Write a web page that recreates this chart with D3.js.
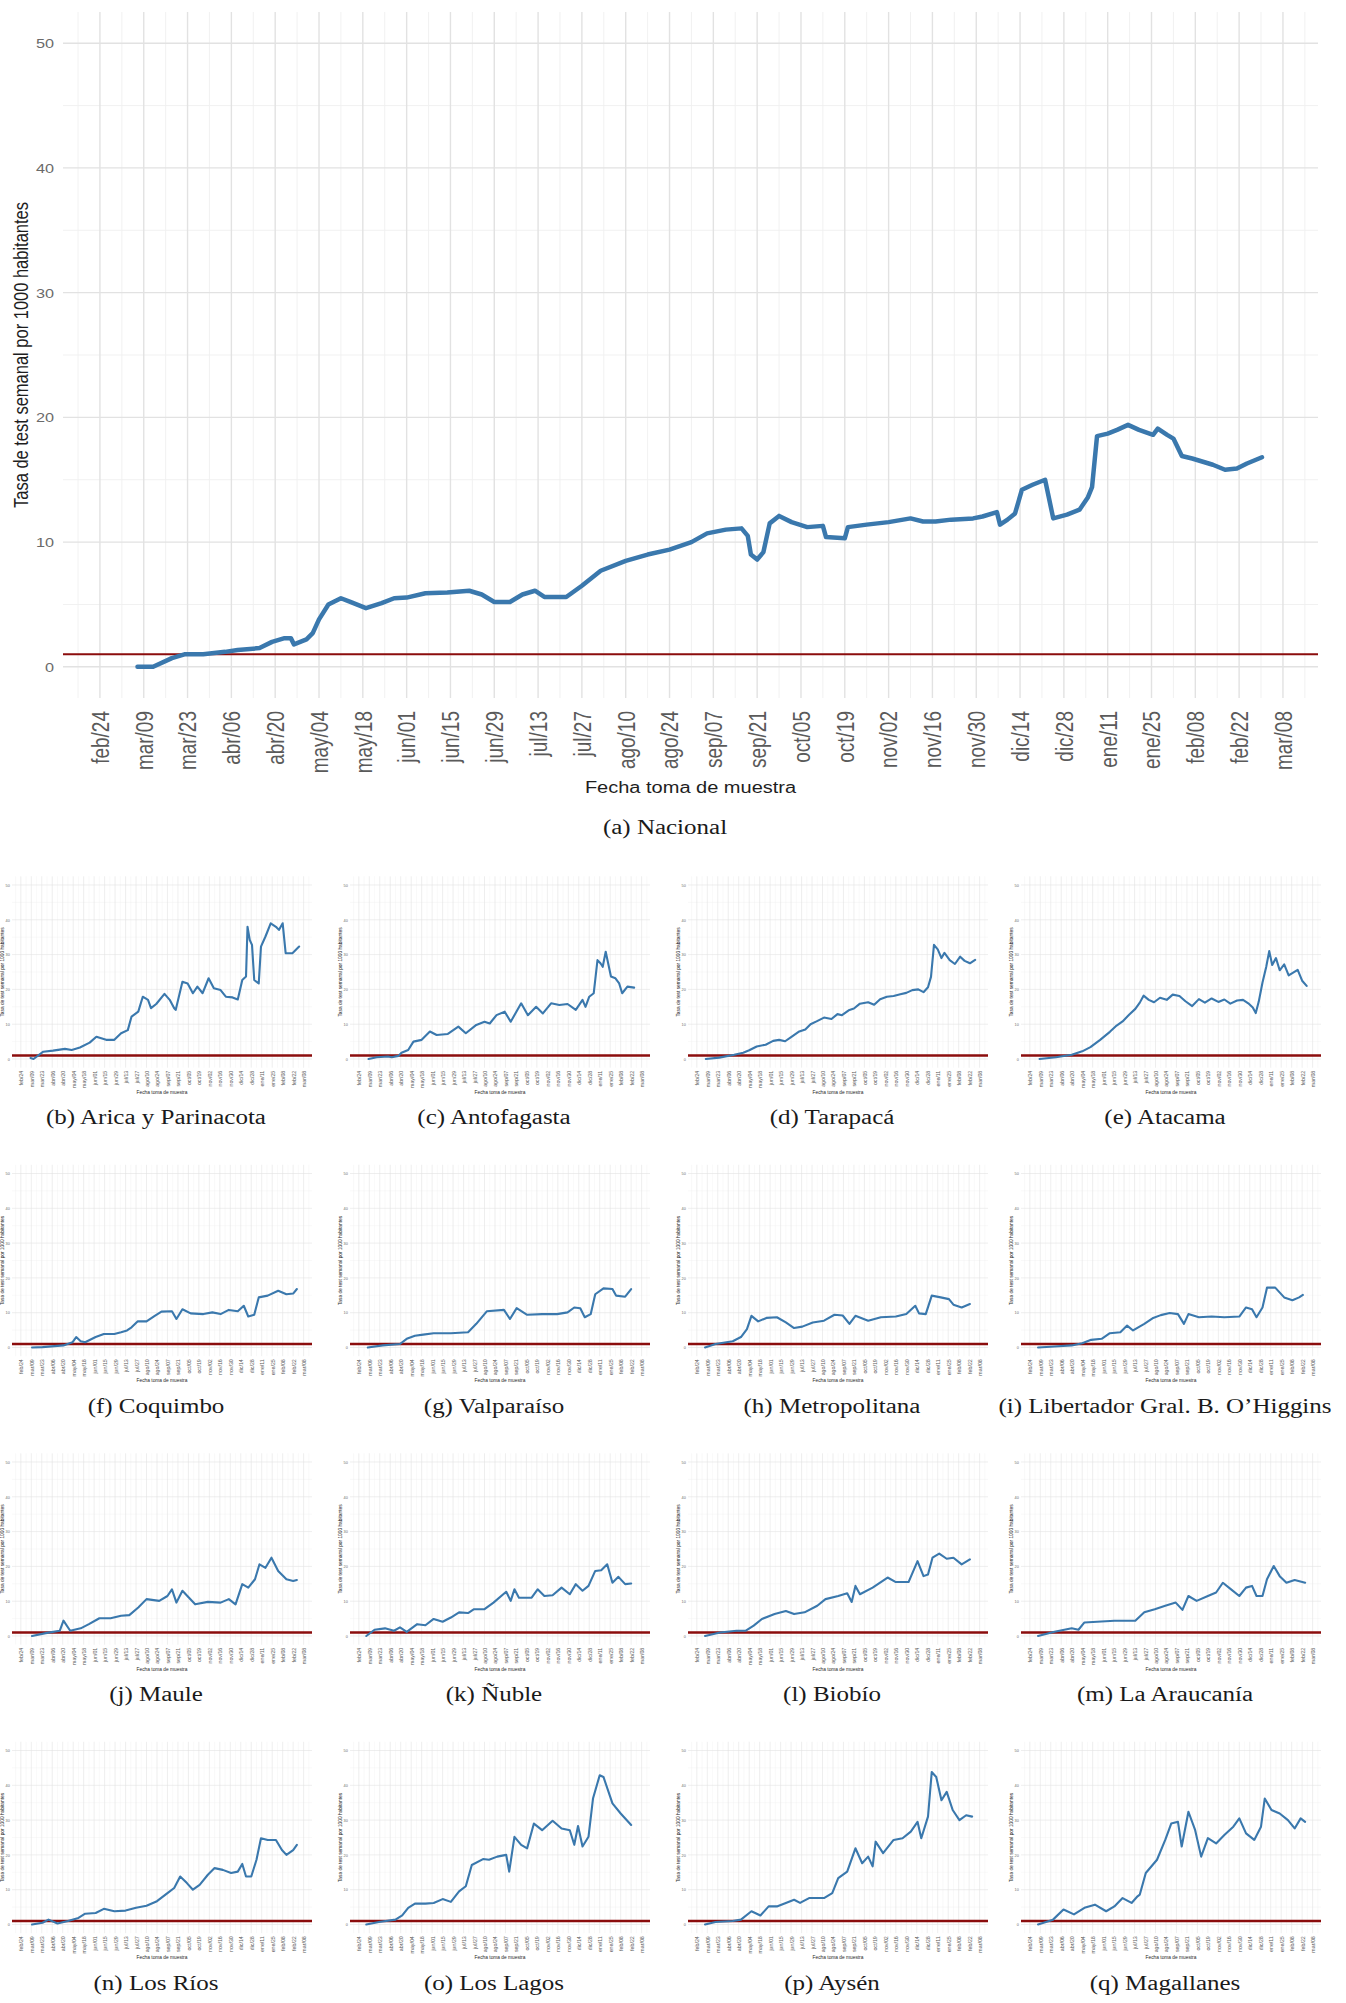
<!DOCTYPE html>
<html><head><meta charset="utf-8">
<script src="https://cdn.jsdelivr.net/npm/d3@7"></script>
<style>body{margin:0;background:#fff}svg{display:block}</style>
</head><body>
<svg id="fig" width="1346" height="2003"></svg>
<script>
// ---- data (x = days since 2020-02-24, y = weekly tests per 1000 inhabitants) ----
const baseDate = Date.UTC(2020, 1, 24);
const xTickLabels = ["feb/24","mar/09","mar/23","abr/06","abr/20","may/04","may/18","jun/01","jun/15","jun/29","jul/13","jul/27","ago/10","ago/24","sep/07","sep/21","oct/05","oct/19","nov/02","nov/16","nov/30","dic/14","dic/28","ene/11","ene/25","feb/08","feb/22","mar/08"];
const xTickDays = d3.range(0, 379, 14);
const xMinorDays = d3.range(-7, 390, 14);
const xDomainDays = [-11.8, 389.2];
const yTicks = [0, 10, 20, 30, 40, 50];
const yMinorTicks = [5, 15, 25, 35, 45];
const yDomain = [-2.5, 52.5];
const referenceLevel = 1;
const yTitle = "Tasa de test semanal por 1000 habitantes";
const xTitle = "Fecha toma de muestra";

const nacional = [[12,0],[17,0],[23,0.7],[27,1.0],[33,1.0],[40,1.2],[44,1.35],[51,1.5],[55,2.0],[59,2.3],[61,2.3],[62,1.8],[66,2.2],[68,2.7],[70,3.8],[73,5.0],[77,5.5],[80,5.2],[85,4.7],[90,5.1],[94,5.5],[98,5.55],[104,5.9],[111,5.95],[118,6.1],[122,5.8],[126,5.2],[131,5.2],[135,5.8],[139,6.1],[142,5.6],[149,5.6],[154,6.5],[160,7.7],[168,8.5],[175,9.0],[182,9.4],[189,10.0],[194,10.7],[200,11.0],[205,11.1],[207,10.5],[208,9.0],[210,8.6],[212,9.2],[214,11.5],[217,12.1],[221,11.6],[226,11.2],[231,11.3],[232,10.4],[238,10.3],[239,11.2],[245,11.4],[252,11.6],[259,11.9],[263,11.65],[267,11.65],[272,11.8],[279,11.9],[282,12.05],[286.6,12.4],[287.6,11.4],[290,11.8],[292.4,12.3],[294.6,14.2],[298,14.6],[302,15.0],[304.6,11.9],[309,12.2],[313,12.6],[315.7,13.6],[317,14.4],[318.6,18.5],[322,18.7],[325,19.0],[328.5,19.4],[332,19.0],[336.5,18.6],[338,19.1],[341,18.6],[343,18.3],[345.7,16.9],[349,16.7],[355.6,16.2],[359.5,15.8],[363.3,15.9],[366.5,16.3],[371.3,16.8]];

const arica = [[13,0.3],[17,0],[30,2.1],[43,2.4],[59,2.9],[68,2.6],[79,3.3],[92,4.7],[101,6.4],[114,5.5],[125,5.5],[134,7.4],[143,8.3],[148,12.2],[157,13.6],[163,17.9],[170,17.0],[174,14.6],[181,15.8],[192,18.7],[199,17.0],[205,14.6],[207,14.1],[216,22.2],[223,21.7],[230,18.9],[236,20.8],[243,18.9],[251,23.2],[258,20.3],[267,19.8],[274,17.9],[283,17.7],[290,17.1],[296,22.7],[301,23.7],[303,38.0],[306,34.2],[309,32.8],[312,22.7],[318,21.7],[321,32.3],[327,35.2],[334,39.0],[341,38.0],[345,37.1],[350,39.0],[354,30.4],[363,30.4],[372,32.3]];
const antofagasta = [[13,0],[24,0.5],[39,0.7],[44,0.5],[53,0.9],[57,1.8],[66,2.6],[73,5.0],[84,5.5],[95,7.9],[104,6.9],[119,7.2],[133,9.3],[143,7.4],[157,9.8],[168,10.7],[175,10.2],[184,12.6],[195,13.6],[203,10.7],[217,16.0],[226,12.6],[237,15.0],[246,13.1],[257,16.0],[268,15.5],[279,15.8],[290,14.1],[299,17.0],[303,15.0],[308,17.9],[314,18.9],[319,28.4],[323,27.5],[326,26.5],[330,30.8],[337,23.7],[343,23.2],[348,21.7],[352,18.9],[359,20.8],[368,20.5]];
const tarapaca = [[12,0],[30,0.4],[50,1.2],[62,1.8],[70,2.5],[80,3.6],[92,4.1],[102,5.2],[110,5.5],[118,5.1],[126,6.3],[136,7.8],[145,8.5],[152,10.0],[160,10.8],[170,11.9],[180,11.5],[188,12.9],[194,12.6],[203,14.0],[210,14.5],[218,15.9],[229,16.3],[237,15.6],[245,17.2],[254,17.9],[263,18.1],[272,18.6],[280,19.0],[288,19.8],[296,20.0],[303,19.2],[309,20.6],[313,23.6],[317,32.8],[322,31.5],[327,29.0],[331,30.5],[338,28.4],[345,27.3],[352,29.4],[358,28.2],[365,27.5],[372,28.5]];
const atacama = [[13,0],[35,0.5],[56,1.2],[70,2.2],[81,3.4],[94,5.5],[107,7.8],[116,9.6],[124,10.8],[133,12.8],[141,14.4],[147,16.2],[152,18.2],[159,17.0],[166,16.3],[174,17.6],[183,17.0],[191,18.5],[200,18.1],[208,16.6],[217,15.2],[226,17.2],[234,16.2],[243,17.4],[252,16.4],[260,17.1],[268,15.9],[277,16.8],[285,17.0],[292,16.0],[298,14.8],[302,13.2],[306,16.5],[311,22.0],[316,26.5],[320,31.0],[324,27.0],[329,29.0],[334,25.5],[340,27.2],[346,24.0],[352,24.8],[358,25.6],[364,22.5],[370,21.0]];
const coquimbo = [[15,0],[29,0.1],[57,0.6],[69,1.5],[74,3.0],[80,1.8],[86,1.5],[100,3.0],[111,3.9],[125,3.9],[134,4.4],[142,4.9],[148,5.8],[156,7.5],[168,7.5],[179,9.1],[188,10.3],[202,10.4],[208,8.2],[216,11.0],[227,9.8],[244,9.6],[256,10.1],[267,9.6],[278,10.8],[290,10.4],[298,12.0],[304,8.9],[312,9.4],[318,14.4],[330,14.9],[344,16.3],[355,15.3],[364,15.5],[369,16.8]];
const valparaiso = [[12,0],[32,0.6],[55,1.0],[64,2.5],[75,3.4],[86,3.7],[100,4.1],[123,4.1],[146,4.4],[157,6.8],[171,10.4],[194,10.8],[202,8.2],[211,11.3],[225,9.4],[245,9.6],[265,9.6],[279,10.1],[288,11.5],[296,11.3],[302,8.7],[310,9.6],[316,15.3],[327,17.0],[339,16.8],[344,14.9],[356,14.6],[364,16.8]];
const metropolitana = [[11,0],[25,1.0],[48,1.8],[59,3.0],[67,5.3],[73,9.1],[82,7.5],[93,8.5],[107,8.7],[119,7.2],[130,5.6],[141,6.0],[155,7.2],[170,7.7],[184,9.4],[195,9.2],[204,6.8],[212,9.1],[229,7.7],[246,8.7],[266,8.9],[280,9.6],[292,12.0],[297,9.8],[306,9.6],[314,14.9],[326,14.4],[337,13.9],[343,12.3],[354,11.5],[365,12.5]];
const ohiggins = [[11,0],[33,0.3],[56,0.6],[70,1.2],[82,2.2],[96,2.5],[107,4.1],[121,4.4],[130,6.3],[138,4.9],[153,6.8],[164,8.4],[175,9.3],[187,9.9],[198,9.6],[206,6.8],[212,9.6],[226,8.7],[243,8.9],[260,8.7],[280,8.9],[289,11.5],[297,11.0],[303,8.7],[311,11.5],[317,17.2],[328,17.2],[340,14.4],[351,13.6],[360,14.4],[365,15.1]];
const maule = [[15,0],[35,0.9],[52,1.5],[57,4.4],[66,1.5],[80,2.2],[91,3.4],[105,5.1],[120,5.1],[134,5.8],[145,6.0],[157,8.2],[168,10.6],[185,10.1],[196,11.5],[202,13.4],[208,9.6],[216,13.0],[233,9.1],[250,9.8],[267,9.6],[278,10.6],[287,9.1],[296,14.9],[304,13.9],[313,16.3],[319,20.6],[327,19.6],[335,22.5],[344,18.7],[355,16.3],[364,15.8],[369,16.1]];
const nuble = [[10,0],[21,1.8],[35,2.2],[47,1.5],[55,2.5],[64,1.2],[78,3.4],[89,3.1],[100,4.9],[112,4.1],[123,5.3],[134,6.8],[146,6.6],[154,7.7],[168,7.7],[180,9.6],[197,12.7],[203,10.1],[208,13.4],[214,11.0],[231,11.0],[239,13.4],[248,11.5],[259,11.7],[271,13.9],[282,12.0],[290,14.9],[299,13.0],[307,14.4],[316,18.7],[324,18.9],[332,20.6],[339,15.3],[347,17.0],[356,14.9],[364,15.1]];
const biobio = [[11,0],[31,1.0],[53,1.5],[65,1.5],[76,3.0],[87,4.9],[104,6.3],[119,7.2],[130,6.3],[144,6.8],[161,8.7],[172,10.6],[189,11.5],[201,12.3],[207,9.8],[212,14.4],[218,12.0],[235,13.9],[255,16.8],[266,15.5],[283,15.5],[295,21.5],[303,17.2],[309,17.7],[315,22.5],[324,23.7],[334,22.2],[343,22.5],[354,20.6],[365,22.0]];
const araucania = [[11,0],[33,1.2],[56,2.2],[65,1.8],[73,3.9],[90,4.1],[113,4.4],[141,4.4],[153,6.8],[167,7.7],[181,8.7],[195,9.6],[204,7.5],[212,11.5],[223,10.1],[238,11.5],[249,12.5],[258,15.3],[269,13.4],[280,11.5],[289,13.9],[297,14.4],[303,11.5],[311,11.5],[317,16.3],[326,20.1],[334,17.2],[343,15.3],[354,16.1],[368,15.3]];
const losRios = [[15,0],[29,0.5],[37,1.4],[49,0.3],[63,1.0],[77,1.9],[86,3.1],[100,3.3],[111,4.5],[125,3.8],[140,4.0],[154,4.8],[168,5.4],[182,6.7],[196,9.0],[205,10.5],[213,13.8],[222,11.9],[230,10.0],[239,11.4],[250,14.3],[259,16.2],[270,15.7],[281,14.8],[290,15.2],[296,17.4],[301,13.8],[308,13.8],[315,18.6],[321,24.8],[330,24.3],[341,24.3],[349,21.4],[355,20.0],[364,21.4],[369,22.9]];
const losLagos = [[10,0],[27,0.7],[49,1.4],[58,2.6],[66,4.8],[75,6.0],[89,6.0],[100,6.2],[112,7.3],[123,6.5],[134,9.5],[143,11.0],[151,17.1],[166,18.8],[174,18.6],[185,19.5],[197,20.0],[201,15.2],[208,25.2],[217,22.9],[225,21.9],[234,29.0],[245,27.1],[259,29.8],[271,27.6],[282,27.1],[288,22.9],[293,28.3],[299,22.4],[307,25.2],[313,36.2],[322,42.9],[327,42.4],[339,34.8],[350,31.9],[364,28.6]];
const aysen = [[11,0],[25,0.7],[48,1.0],[59,1.4],[73,3.8],[85,2.6],[96,5.2],[107,5.2],[119,6.2],[130,7.1],[138,6.2],[150,7.6],[170,7.6],[181,9.0],[189,13.3],[201,15.2],[212,21.9],[221,17.6],[229,19.5],[235,16.7],[239,23.8],[249,20.5],[263,24.3],[275,24.8],[286,26.7],[295,29.5],[300,24.8],[309,31.0],[314,43.8],[320,42.4],[327,35.7],[334,38.1],[342,32.9],[351,30.0],[360,31.4],[368,31.0]];
const magallanes = [[11,0],[31,1.4],[45,4.3],[59,2.9],[73,4.8],[87,5.7],[102,3.8],[113,5.2],[124,7.6],[136,6.2],[144,8.1],[147,8.6],[155,14.8],[170,18.6],[181,24.3],[189,29.0],[198,29.5],[203,22.4],[212,32.4],[221,27.1],[229,19.5],[238,24.8],[249,23.3],[260,25.7],[272,28.1],[280,30.5],[289,26.2],[300,24.3],[309,28.1],[314,36.2],[323,32.9],[334,31.9],[345,30.0],[354,27.6],[362,30.5],[368,29.5]];

const regionCaptions = ["(b) Arica y Parinacota","(c) Antofagasta","(d) Tarapacá","(e) Atacama","(f) Coquimbo","(g) Valparaíso","(h) Metropolitana","(i) Libertador Gral. B. O’Higgins","(j) Maule","(k) Ñuble","(l) Biobío","(m) La Araucanía","(n) Los Ríos","(o) Los Lagos","(p) Aysén","(q) Magallanes"];
const regionSeries = [arica, antofagasta, tarapaca, atacama, coquimbo, valparaiso, metropolitana, ohiggins, maule, nuble, biobio, araucania, losRios, losLagos, aysen, magallanes];
const mainCaption = "(a) Nacional";

// ---- drawing ----
const svg = d3.select("#fig");
svg.append("rect").attr("width", 1346).attr("height", 2003).attr("fill", "#fff");
const SANS = "'Liberation Sans', Arial, Helvetica, sans-serif";
const SERIF = "'Liberation Serif', 'Times New Roman', serif";
const toDate = d => new Date(baseDate + d * 864e5);

function drawChart(data, o) {
  const g = svg.append("g");
  const x = d3.scaleUtc().domain(xDomainDays.map(toDate)).range([o.left, o.right]);
  const y = d3.scaleLinear().domain(yDomain).range([o.bottom, o.top]);

  // grid
  g.append("g").selectAll("line").data(yMinorTicks).join("line")
    .attr("x1", o.left).attr("x2", o.right).attr("y1", d => y(d)).attr("y2", d => y(d))
    .attr("stroke", "#efefef").attr("stroke-width", o.gridMin);
  g.append("g").selectAll("line").data(xMinorDays).join("line")
    .attr("x1", d => x(toDate(d))).attr("x2", d => x(toDate(d))).attr("y1", o.top).attr("y2", o.bottom)
    .attr("stroke", "#efefef").attr("stroke-width", o.gridMin);
  g.append("g").selectAll("line").data(yTicks).join("line")
    .attr("x1", o.left).attr("x2", o.right).attr("y1", d => y(d)).attr("y2", d => y(d))
    .attr("stroke", "#e2e2e2").attr("stroke-width", o.gridMaj);
  g.append("g").selectAll("line").data(xTickDays).join("line")
    .attr("x1", d => x(toDate(d))).attr("x2", d => x(toDate(d))).attr("y1", o.top).attr("y2", o.bottom)
    .attr("stroke", "#e2e2e2").attr("stroke-width", o.gridMaj);

  // reference line
  g.append("line").attr("x1", o.left).attr("x2", o.right)
    .attr("y1", y(referenceLevel)).attr("y2", y(referenceLevel))
    .attr("stroke", "#8b0d0d").attr("stroke-width", o.redW);

  // series
  const line = d3.line().x(d => x(toDate(d[0]))).y(d => y(d[1]));
  g.append("path").datum(data).attr("d", line).attr("fill", "none")
    .attr("stroke", "#3a78ad").attr("stroke-width", o.lineW)
    .attr("stroke-linejoin", "round").attr("stroke-linecap", "round");

  // x axis
  const gx = g.append("g").attr("transform", `translate(0,${o.bottom})`)
    .call(d3.axisBottom(x).tickValues(xTickDays.map(toDate)).tickFormat((d, i) => xTickLabels[i]).tickSize(0));
  gx.select(".domain").remove();
  gx.attr("font-family", SANS).attr("font-size", null);
  gx.selectAll("text").attr("x", 0).attr("y", 0).attr("dy", "0.35em")
    .attr("transform", `translate(0,${o.xLabelPad}) scale(${o.sx},1) rotate(-90)`)
    .attr("text-anchor", "end").style("font-size", o.xTickFont + "px").attr("fill", "#5a5a5a");

  // y axis
  const gy = g.append("g").attr("transform", `translate(${o.left},0)`)
    .call(d3.axisLeft(y).tickValues(yTicks).tickFormat(d3.format("d")).tickSize(0));
  gy.select(".domain").remove();
  gy.attr("font-family", SANS).attr("font-size", null);
  gy.selectAll("text").attr("x", 0).attr("dy", "0.35em")
    .attr("transform", `translate(${-o.yLabelPad},0) scale(${o.sx},1)`)
    .attr("text-anchor", "end").style("font-size", o.yTickFont + "px").attr("fill", "#6a6a6a");

  // titles
  g.append("text").text(yTitle).attr("font-family", SANS).style("font-size", o.yTitleFont + "px")
    .attr("fill", "#1e1e1e").attr("text-anchor", "middle").attr("dy", "0.35em")
    .attr("transform", `translate(${o.left - o.yTitleOff},${(o.top + o.bottom) / 2}) scale(${o.sx},1) rotate(-90)`);
  g.append("text").text(xTitle).attr("font-family", SANS).style("font-size", o.xTitleFont + "px")
    .attr("fill", "#1e1e1e").attr("text-anchor", "middle")
    .attr("transform", `translate(${(o.left + o.right) / 2},${o.bottom + o.xTitleOff}) scale(${o.sx},1)`);
}

function caption(text, cx, baseline) {
  svg.append("text").text(text).attr("font-family", SERIF).style("font-size", "20px")
    .attr("fill", "#1a1a1a").attr("text-anchor", "middle")
    .attr("transform", `translate(${cx},${baseline}) scale(1.25,1)`);
}

// main panel
drawChart(nacional, {
  left: 63, right: 1318, top: 12, bottom: 698, sx: 1.25,
  xLabelPad: 13, yLabelPad: 9, xTickFont: 19, yTickFont: 13,
  yTitleOff: 42, yTitleFont: 16.5, xTitleOff: 95, xTitleFont: 16,
  lineW: 4.5, redW: 2, gridMaj: 1.4, gridMin: 0.9
});
caption(mainCaption, 665, 834);

// small multiples
const colLefts = [12, 350, 688, 1021];
const panelW = 300;
regionSeries.forEach((data, i) => {
  const r = Math.floor(i / 4), c = i % 4;
  const zero = 1059 + 288.5 * r;
  const left = colLefts[c], right = left + panelW;
  drawChart(data, {
    left, right, top: zero - 182.7, bottom: zero + 8.7, sx: 1.07,
    xLabelPad: 3, yLabelPad: 2.2, xTickFont: 5.3, yTickFont: 3.6,
    yTitleOff: 9.5, yTitleFont: 4.8, xTitleOff: 26, xTitleFont: 4.5,
    lineW: 2.1, redW: 2.4, gridMaj: 0.6, gridMin: 0.4
  });
  caption(regionCaptions[i], (left - 12 + right) / 2, zero + 65);
});
</script>
</body></html>
